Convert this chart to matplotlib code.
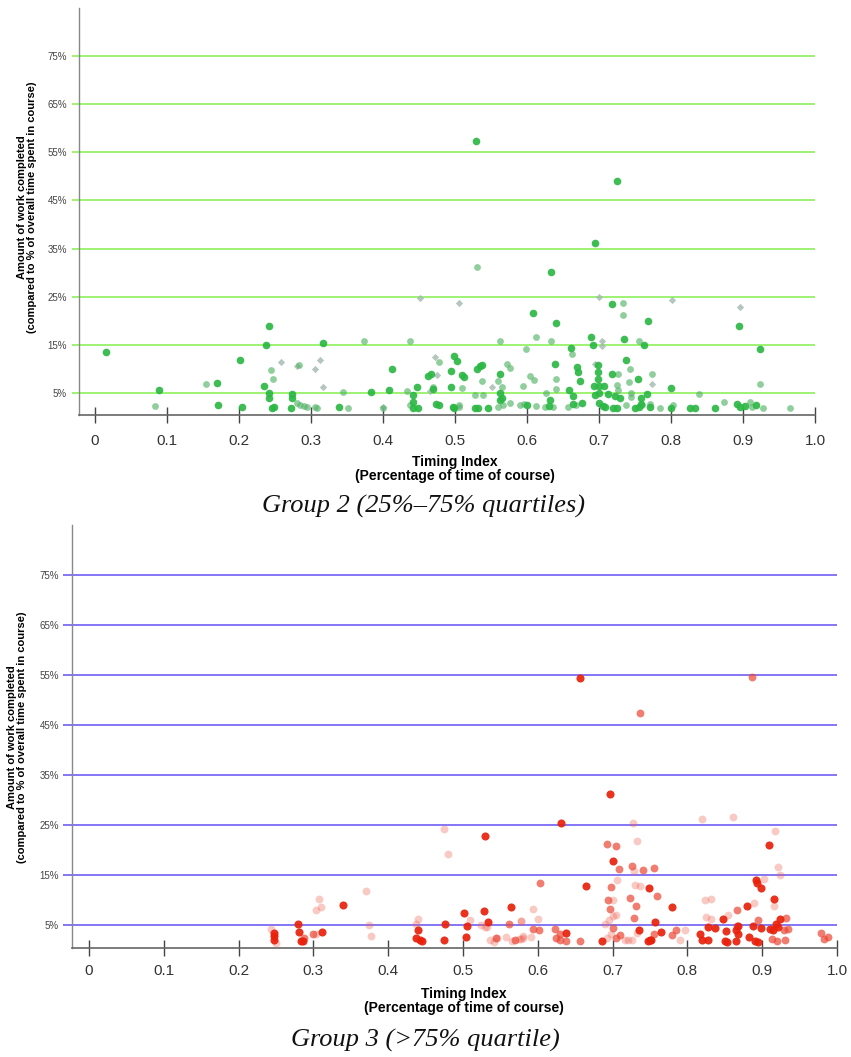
import matplotlib
matplotlib.use("Agg")
import matplotlib.pyplot as plt

plt.rcParams['font.family'] = ['Liberation Sans', 'DejaVu Sans']

# ---- Group 2 (25%-75% quartiles): timing index vs % of work completed ----
g2_solid_x = [0.015, 0.089, 0.170, 0.171, 0.202, 0.204, 0.242, 0.238, 0.235, 0.242, 0.241, 0.246,
              0.249, 0.273, 0.273, 0.272, 0.317, 0.339, 0.384, 0.413, 0.409, 0.447, 0.442, 0.442,
              0.442, 0.448, 0.467, 0.463, 0.470, 0.473, 0.478, 0.498, 0.503, 0.495, 0.494, 0.497,
              0.529, 0.725, 0.695, 0.634, 0.718, 0.608, 0.640, 0.768, 0.894, 0.689, 0.692, 0.735,
              0.763, 0.924, 0.661, 0.510, 0.512, 0.530, 0.535, 0.537, 0.498, 0.528, 0.532, 0.546,
              0.562, 0.563, 0.563, 0.565, 0.600, 0.639, 0.632, 0.630, 0.659, 0.664, 0.664, 0.669,
              0.671, 0.674, 0.676, 0.698, 0.698, 0.698, 0.693, 0.700, 0.707, 0.695, 0.700, 0.713,
              0.700, 0.705, 0.708, 0.718, 0.722, 0.729, 0.720, 0.725, 0.737, 0.754, 0.758, 0.758,
              0.750, 0.755, 0.767, 0.771, 0.800, 0.800, 0.827, 0.833, 0.861, 0.891, 0.896, 0.903,
              0.918]
g2_solid_y = [13.6, 5.6, 7.0, 2.6, 11.8, 2.1, 18.9, 14.9, 6.5, 5.0, 3.9, 1.9,
              2.0, 4.7, 3.9, 1.9, 15.3, 2.0, 5.2, 9.9, 5.7, 6.3, 4.5, 3.1,
              1.9, 1.8, 8.9, 8.5, 5.8, 2.7, 2.5, 12.7, 11.6, 9.6, 6.3, 2.1,
              57.3, 49.1, 36.2, 30.2, 23.4, 21.6, 19.6, 19.9, 19.0, 16.6, 14.9, 16.2,
              14.9, 14.1, 14.4, 8.7, 8.4, 10.0, 10.5, 10.8, 1.9, 1.9, 1.9, 1.9,
              8.9, 5.0, 3.5, 4.0, 2.6, 11.1, 3.5, 2.3, 5.7, 4.4, 2.8, 10.4,
              9.3, 7.5, 2.9, 10.8, 9.4, 8.0, 6.5, 6.5, 6.5, 4.6, 4.9, 4.7,
              2.9, 2.2, 2.0, 9.0, 4.4, 3.9, 1.9, 1.9, 11.8, 7.9, 3.9, 2.8,
              1.9, 2.0, 4.7, 2.0, 6.1, 1.9, 1.9, 1.9, 1.8, 2.7, 2.1, 2.3,
              2.5]

g2_light_x = [0.083, 0.154, 0.244, 0.247, 0.283, 0.280, 0.285, 0.290, 0.294, 0.306, 0.309, 0.352,
              0.345, 0.373, 0.400, 0.437, 0.433, 0.438, 0.478, 0.470, 0.505, 0.531, 0.733, 0.562,
              0.613, 0.633, 0.756, 0.663, 0.598, 0.510, 0.538, 0.528, 0.539, 0.506, 0.560, 0.566,
              0.576, 0.565, 0.560, 0.572, 0.576, 0.595, 0.604, 0.610, 0.590, 0.596, 0.613, 0.625,
              0.627, 0.640, 0.640, 0.636, 0.657, 0.668, 0.727, 0.725, 0.727, 0.738, 0.743, 0.741,
              0.744, 0.744, 0.760, 0.773, 0.771, 0.785, 0.803, 0.839, 0.873, 0.910, 0.912, 0.928,
              0.923, 0.965, 0.734]
g2_light_y = [2.3, 6.9, 9.7, 7.9, 10.8, 3.0, 2.5, 2.3, 2.1, 2.1, 1.8, 1.8,
              5.2, 15.7, 1.8, 15.9, 5.4, 2.5, 11.4, 6.3, 2.1, 31.2, 21.2, 15.7,
              16.7, 15.7, 15.9, 13.2, 14.1, 6.1, 7.5, 4.6, 4.6, 2.5, 2.0, 2.6,
              2.9, 6.3, 7.5, 11.0, 10.2, 6.5, 8.5, 7.7, 2.5, 2.7, 2.3, 2.1,
              4.9, 8.0, 5.9, 2.1, 2.1, 2.4, 9.0, 6.6, 5.6, 2.5, 10.0, 7.2,
              4.9, 4.2, 2.5, 9.0, 2.8, 1.8, 2.5, 4.8, 3.2, 3.1, 2.1, 1.8,
              6.8, 1.8, 23.7]

g2_cross_x = [0.259, 0.281, 0.306, 0.313, 0.317, 0.451, 0.472, 0.475, 0.465, 0.505, 0.700, 0.802,
              0.896, 0.704, 0.704, 0.552, 0.694, 0.773, 0.400]
g2_cross_y = [11.4, 10.6, 9.9, 11.9, 6.3, 24.7, 12.5, 8.8, 5.5, 23.6, 24.9, 24.3,
              22.9, 15.9, 14.7, 6.3, 11.1, 6.8, 2.0]

# ---- Group 3 (>75% quartile) ----
g3_solid_x = [0.529, 0.340, 0.248, 0.248, 0.248, 0.279, 0.281, 0.284, 0.286, 0.311, 0.440, 0.437,
              0.443, 0.445, 0.476, 0.475, 0.502, 0.506, 0.504, 0.528, 0.533, 0.564, 0.656, 0.697,
              0.631, 0.909, 0.700, 0.664, 0.749, 0.780, 0.916, 0.880, 0.757, 0.847, 0.868, 0.924,
              0.918, 0.921, 0.888, 0.899, 0.910, 0.915, 0.828, 0.837, 0.851, 0.865, 0.638, 0.686,
              0.735, 0.747, 0.750, 0.752, 0.765, 0.817, 0.820, 0.828, 0.850, 0.853, 0.865, 0.867,
              0.883, 0.890, 0.895, 0.898, 0.893, 0.892]
g3_solid_y = [22.9, 9.1, 3.5, 2.8, 2.1, 5.2, 3.6, 1.8, 1.8, 3.7, 4.0, 2.5,
              2.0, 1.8, 5.3, 2.0, 7.5, 4.9, 2.7, 7.8, 5.7, 8.6, 54.5, 31.3,
              25.5, 21.0, 17.8, 12.8, 12.5, 8.7, 10.3, 8.8, 5.7, 6.3, 4.8, 6.3,
              5.3, 4.7, 4.8, 4.5, 4.3, 4.0, 4.7, 4.5, 3.9, 4.0, 3.5, 1.8,
              4.1, 1.9, 2.0, 2.1, 3.7, 3.3, 2.1, 2.1, 1.8, 1.7, 1.8, 3.3,
              2.6, 1.8, 1.7, 12.5, 13.4, 14.0]

g3_mid_x = [0.886, 0.737, 0.693, 0.705, 0.709, 0.726, 0.741, 0.755, 0.603, 0.698, 0.759, 0.694,
            0.723, 0.731, 0.696, 0.866, 0.728, 0.895, 0.932, 0.929, 0.934, 0.623, 0.630, 0.594,
            0.601, 0.624, 0.630, 0.638, 0.657, 0.700, 0.705, 0.710, 0.755, 0.779, 0.785, 0.913,
            0.920, 0.930, 0.979, 0.983, 0.988, 0.866, 0.288, 0.562, 0.300, 0.544, 0.570]
g3_mid_y = [54.7, 47.5, 21.3, 20.8, 16.3, 16.9, 16.0, 16.5, 13.5, 12.7, 10.9, 10.1,
            10.5, 8.8, 8.3, 8.1, 6.5, 6.0, 6.5, 4.0, 4.3, 4.3, 3.3, 4.3,
            4.0, 2.4, 2.0, 1.8, 1.8, 4.4, 2.4, 3.0, 3.3, 3.0, 4.0, 2.3,
            1.9, 2.0, 3.5, 2.3, 2.7, 4.8, 2.5, 5.3, 3.3, 2.4, 2.0]

g3_light_x = [0.475, 0.480, 0.370, 0.308, 0.310, 0.304, 0.244, 0.250, 0.303, 0.374, 0.377, 0.440,
              0.437, 0.510, 0.524, 0.530, 0.532, 0.578, 0.536, 0.541, 0.545, 0.557, 0.566, 0.575,
              0.580, 0.727, 0.820, 0.861, 0.917, 0.732, 0.728, 0.921, 0.924, 0.903, 0.706, 0.730,
              0.737, 0.700, 0.824, 0.832, 0.916, 0.889, 0.594, 0.600, 0.577, 0.700, 0.704, 0.690,
              0.695, 0.825, 0.832, 0.854, 0.577, 0.580, 0.591, 0.692, 0.698, 0.716, 0.721, 0.726,
              0.733, 0.790, 0.797]
g3_light_y = [24.3, 19.3, 11.9, 10.2, 8.7, 8.1, 4.3, 1.5, 3.3, 5.0, 2.9, 6.3,
              5.3, 6.1, 5.0, 4.7, 4.6, 5.8, 2.0, 1.7, 2.4, 2.7, 1.9, 2.3,
              2.9, 25.5, 26.3, 26.7, 23.8, 21.8, 15.9, 16.6, 15.0, 14.3, 14.1, 13.1,
              12.8, 10.0, 10.1, 10.3, 8.8, 9.5, 8.3, 6.3, 5.8, 6.8, 7.0, 5.2,
              6.0, 6.7, 6.3, 7.0, 2.3, 2.5, 2.7, 2.5, 3.2, 2.0, 2.0, 2.1,
              3.4, 2.0, 4.0]

y_ticks = [5, 15, 25, 35, 45, 55, 65, 75]
y_labels = [f'{v}%' for v in y_ticks]
x_ticks = [0, 0.1, 0.2, 0.3, 0.4, 0.5, 0.6, 0.7, 0.8, 0.9, 1.0]
x_labels = ['0', '0.1', '0.2', '0.3', '0.4', '0.5', '0.6', '0.7', '0.8', '0.9', '1.0']

ylab = 'Amount of work completed\n(compared to % of overall time spent in course)'
xlab = 'Timing Index\n(Percentage of time of course)'


def style_axes(ax, grid_color, xlim, tick_len, tick_pad, xpad, ylab_xy, xlab_xy):
    ax.set_xlim(*xlim)
    ax.set_ylim(0.42, 85)
    for s in ['top', 'right']:
        ax.spines[s].set_visible(False)
    ax.spines['left'].set_color('#888888')
    ax.spines['bottom'].set_color('#666666')
    ax.spines['left'].set_linewidth(1.0)
    ax.spines['bottom'].set_linewidth(1.2)

    ax.set_yticks(y_ticks)
    ax.set_yticklabels(y_labels)
    ax.yaxis.grid(True, color=grid_color, linewidth=1.2)
    ax.set_axisbelow(True)
    ax.tick_params(axis='y', direction='out', length=tick_len, width=1.2,
                   color=grid_color, pad=tick_pad, labelsize=7, labelcolor='#444444')

    ax.set_xticks(x_ticks)
    ax.set_xticklabels(x_labels)
    ax.tick_params(axis='x', direction='inout', length=11.5, width=1.0,
                   color='#444444', pad=xpad, labelsize=11, labelcolor='#333333')

    ax.set_ylabel(ylab, fontsize=8, fontweight='bold', linespacing=1.05, va='center')
    ax.yaxis.set_label_coords(*ylab_xy)
    ax.set_xlabel(xlab, fontsize=10, fontweight='bold', linespacing=1.02, va='top')
    ax.xaxis.set_label_coords(*xlab_xy)


fig = plt.figure(figsize=(8.51, 10.57), dpi=100)
fig.patch.set_facecolor('white')

# top panel: Group 2
ax1 = fig.add_axes([79 / 851, 1 - 415 / 1057, 736 / 851, 407 / 1057])
style_axes(ax1, '#8cf05a', (-0.0222, 1.0), 5.0, 3.6, 8, (-0.0707, 0.511), (0.511, -0.098))
ax1.scatter(g2_cross_x, g2_cross_y, s=14, marker='D', color='#a3b8b0', alpha=0.8,
            linewidths=0, zorder=3)
ax1.scatter(g2_light_x, g2_light_y, s=24, color='#55b468', alpha=0.65, linewidths=0, zorder=3)
ax1.scatter(g2_solid_x, g2_solid_y, s=30, color='#2cb845', alpha=0.92, linewidths=0, zorder=4)

# bottom panel: Group 3
ax2 = fig.add_axes([72 / 851, 1 - 948 / 1057, 765 / 851, 423 / 1057])
style_axes(ax2, '#6f5ff5', (-0.0227, 1.0), 6.5, 2.9, 6, (-0.0719, 0.499), (0.512, -0.092))
ax2.scatter(g3_light_x, g3_light_y, s=32, color='#ee5a4a', alpha=0.32, linewidths=0, zorder=3)
ax2.scatter(g3_mid_x, g3_mid_y, s=32, color='#ea4634', alpha=0.7, linewidths=0, zorder=3)
ax2.scatter(g3_solid_x, g3_solid_y, s=34, color='#e8210c', alpha=0.92, linewidths=0, zorder=4)

cap_font = dict(family=['Liberation Serif', 'DejaVu Serif'], style='italic', fontsize=19,
                ha='center', va='center', color='#111111')
fig.text(424 / 851, 1 - 506 / 1057, 'Group 2 (25%–75% quartiles)', **cap_font)
fig.text(425 / 851, 1 - 1040 / 1057, 'Group 3 (>75% quartile)', **cap_font)

fig.savefig('out.png', dpi=100)
